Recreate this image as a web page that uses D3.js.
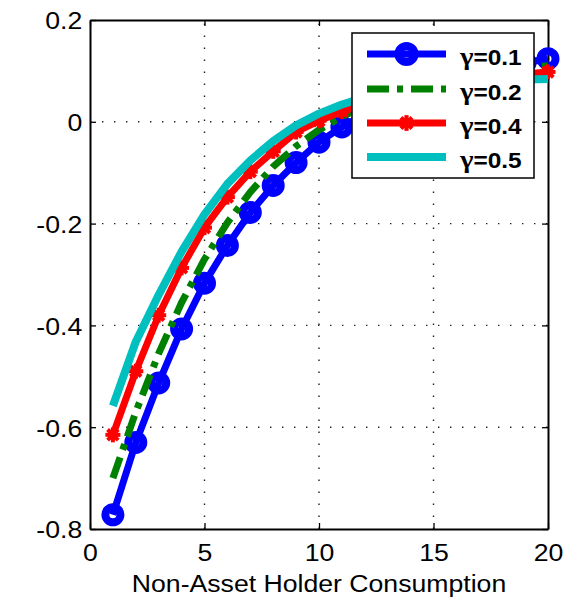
<!DOCTYPE html>
<html>
<head>
<meta charset="utf-8">
<script src="https://cdn.jsdelivr.net/npm/d3@7"></script>
<style>
  html, body { margin: 0; padding: 0; background: #fff; }
  svg { display: block; font-family: "Liberation Sans", Arial, Helvetica, sans-serif; }
</style>
</head>
<body>
<svg id="chart" width="577" height="601"></svg>
<script>
// ---------- data ----------
const xValues = [1,2,3,4,5,6,7,8,9,10,11,12,13,14,15,16,17,18,19,20];
const gamma01 = [-0.772,-0.630,-0.513,-0.407,-0.317,-0.243,-0.178,-0.125,-0.080,-0.040,-0.010,0.015,0.036,0.055,0.071,0.085,0.097,0.107,0.116,0.124];
const gamma02 = [-0.700,-0.570,-0.455,-0.355,-0.270,-0.198,-0.138,-0.088,-0.048,-0.016,0.010,0.031,0.049,0.064,0.077,0.087,0.095,0.101,0.106,0.110];
const gamma04 = [-0.615,-0.490,-0.380,-0.287,-0.208,-0.148,-0.098,-0.058,-0.020,0.002,0.020,0.035,0.048,0.059,0.068,0.076,0.083,0.089,0.094,0.098];
const gamma05 = [-0.558,-0.432,-0.340,-0.255,-0.182,-0.122,-0.076,-0.038,-0.007,0.016,0.034,0.048,0.059,0.067,0.073,0.077,0.080,0.082,0.083,0.084];
const gammaLabels = ["0.1","0.2","0.4","0.5"];
const xTicks = [0,5,10,15,20];
const yTicks = [-0.8,-0.6,-0.4,-0.2,0,0.2];
const xLabel = "Non-Asset Holder Consumption";

// ---------- layout ----------
const svg = d3.select("#chart");
const L = 90, R = 548, T = 20, B = 529;
const SX = 1.11; // horizontal stretch of text
const x = d3.scaleLinear().domain([0,20]).range([L,R]);
const y = d3.scaleLinear().domain([-0.8,0.2]).range([B,T]);
const tickFmt = d => (Math.round(d*10)/10).toString();

// grid
const grid = svg.append("g").attr("stroke","#222").attr("stroke-width",1.4).attr("stroke-dasharray","1.4,10.6");
grid.selectAll("line.v").data(xTicks.filter(t => t>0 && t<20)).join("line")
  .attr("x1", d => x(d)).attr("x2", d => x(d)).attr("y1", B).attr("y2", T);
grid.selectAll("line.h").data(yTicks.filter(t => t>-0.8 && t<0.2)).join("line")
  .attr("y1", d => y(d)).attr("y2", d => y(d)).attr("x1", L).attr("x2", R);

// axes
const axL = svg.append("g").attr("transform",`translate(${L},0)`)
  .call(d3.axisLeft(y).tickValues(yTicks).tickFormat(tickFmt).tickSizeInner(-6).tickSizeOuter(0).tickPadding(7));
const axB = svg.append("g").attr("transform",`translate(0,${B})`)
  .call(d3.axisBottom(x).tickValues(xTicks).tickFormat(tickFmt).tickSizeInner(-6).tickSizeOuter(0).tickPadding(15));
const axR = svg.append("g").attr("transform",`translate(${R},0)`)
  .call(d3.axisRight(y).tickValues(yTicks).tickFormat("").tickSizeInner(-6).tickSizeOuter(0));
const axT = svg.append("g").attr("transform",`translate(0,${T})`)
  .call(d3.axisTop(x).tickValues(xTicks).tickFormat("").tickSizeInner(-6).tickSizeOuter(0));
[axL,axB,axR,axT].forEach(g => {
  g.select(".domain").attr("stroke","#000").attr("stroke-width",2);
  g.selectAll(".tick line").attr("stroke","#000").attr("stroke-width",1.3);
  g.selectAll("text").attr("font-size",24).attr("fill","#000")
    .attr("font-family",'"Liberation Sans", Arial, sans-serif')
    .attr("transform",`scale(${SX},1)`);
});
axB.selectAll("text").attr("dy","0.72em");
axL.selectAll("text").attr("dy","0.37em");

// x label
svg.append("text")
  .attr("transform",`translate(${(L+R)/2},592) scale(${SX},1)`)
  .attr("text-anchor","middle").attr("font-size",24).attr("fill","#000")
  .text(xLabel);

// ---------- series ----------
const line = d3.line().x((d,i) => x(xValues[i])).y(d => y(d));
const series = [
  {vals: gamma01, color:"#0000ff", width:7, dash:null, marker:"circle"},
  {vals: gamma02, color:"#008000", width:7, dash:"22,8,6,8", marker:null},
  {vals: gamma04, color:"#ff0000", width:7, dash:null, marker:"star"},
  {vals: gamma05, color:"#00bfbf", width:8, dash:null, marker:null}
];

function drawMarker(g, kind, cx, cy, color, scale) {
  if (kind === "circle") {
    g.append("circle").attr("cx",cx).attr("cy",cy).attr("r",7.5*scale)
      .attr("fill","none").attr("stroke",color).attr("stroke-width",8*scale);
  } else if (kind === "star") {
    const r = 7.5*scale;
    const m = g.append("g").attr("transform",`translate(${cx},${cy})`)
      .attr("stroke",color).attr("stroke-width",4*scale).attr("stroke-linecap","butt");
    [0,45,90,135].forEach(a => {
      const rad = a*Math.PI/180;
      m.append("line").attr("x1",-r*Math.cos(rad)).attr("y1",-r*Math.sin(rad))
        .attr("x2",r*Math.cos(rad)).attr("y2",r*Math.sin(rad));
    });
    m.append("circle").attr("r",5*scale).attr("fill",color).attr("stroke","none");
  }
}

series.forEach(s => {
  const g = svg.append("g");
  g.append("path").datum(s.vals).attr("d", line)
    .attr("fill","none").attr("stroke",s.color).attr("stroke-width",s.width)
    .attr("stroke-linejoin","round")
    .attr("stroke-dasharray", s.dash);
  if (s.marker) {
    s.vals.forEach((v,i) => drawMarker(g, s.marker, x(xValues[i]), y(v), s.color, 1));
  }
});

// ---------- legend ----------
const lg = svg.append("g");
lg.append("rect").attr("x",352).attr("y",33).attr("width",182).attr("height",145)
  .attr("fill","#fff").attr("stroke","#000").attr("stroke-width",1.5);
const rowY = [54, 89, 123, 157];
series.forEach((s,i) => {
  lg.append("line").attr("x1",367).attr("x2",446).attr("y1",rowY[i]).attr("y2",rowY[i])
    .attr("stroke",s.color).attr("stroke-width",s.width).attr("stroke-dasharray",s.dash);
  if (s.marker) drawMarker(lg, s.marker, 406.5, rowY[i], s.color, 1.05);
  const t = lg.append("text")
    .attr("transform",`translate(460,${rowY[i]+11}) scale(${SX},1)`)
    .attr("font-size",22).attr("font-weight","bold").attr("fill","#000");
  t.append("tspan").attr("font-family",'"Liberation Serif", "DejaVu Serif", serif')
    .attr("font-weight","bold").attr("font-size",26).text("γ");
  t.append("tspan").text("=" + gammaLabels[i]);
});
</script>
</body>
</html>
